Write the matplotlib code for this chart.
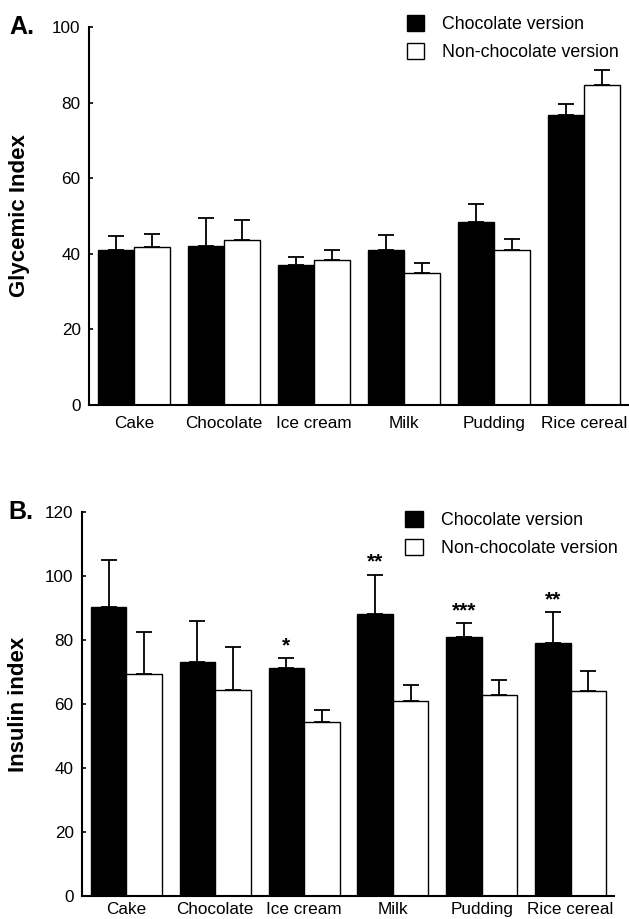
import matplotlib
matplotlib.use("Agg")
import matplotlib.pyplot as plt
from matplotlib.patches import Patch
import numpy as np

plt.rcParams['font.family'] = ['Liberation Sans', 'DejaVu Sans']

# data
foods = ["Cake", "Chocolate", "Ice cream", "Milk", "Pudding", "Rice cereal"]

gi_choc = [41.1, 42.1, 37.0, 40.9, 48.5, 76.8]
gi_choc_err = [3.7, 7.4, 2.2, 4.0, 4.7, 2.8]
gi_non = [41.8, 43.6, 38.3, 34.8, 40.9, 84.6]
gi_non_err = [3.4, 5.3, 2.8, 2.7, 3.1, 4.0]

ii_choc = [90.2, 73.0, 71.1, 88.2, 80.8, 79.0]
ii_choc_err = [14.9, 13.0, 3.2, 12.1, 4.4, 9.6]
ii_non = [69.4, 64.5, 54.5, 61.0, 62.9, 64.1]
ii_non_err = [13.1, 13.3, 3.7, 5.0, 4.7, 6.3]
ii_stars = ["", "", "*", "**", "***", "**"]

W = 0.4


def panel(ax, choc, choc_err, non, non_err, ymax, ylabel, letter, ylab_x, let_x, xpad):
    x = np.arange(len(foods))
    ekw = dict(elinewidth=1.3, capthick=1.3, ecolor='black')
    ax.bar(x - W/2, choc, W, color='black', edgecolor='black', linewidth=1,
           yerr=[np.zeros(len(x)), choc_err], capsize=5.5, error_kw=ekw, zorder=2)
    ax.bar(x + W/2, non, W, color='white', edgecolor='black', linewidth=1,
           yerr=[np.zeros(len(x)), non_err], capsize=5.5, error_kw=ekw, zorder=2)
    ax.set_xlim(-0.5, 5.49)
    ax.set_ylim(0, ymax)
    ax.set_yticks(np.arange(0, ymax + 1, 20))
    ax.set_xticks(x)
    ax.set_xticklabels(foods, fontsize=12.3)
    ax.tick_params(axis='x', length=0, pad=xpad)
    ax.tick_params(axis='y', direction='in', length=3, width=1.2, labelsize=12.3, pad=6)
    for s in ['top', 'right']:
        ax.spines[s].set_visible(False)
    for s in ['left', 'bottom']:
        ax.spines[s].set_linewidth(1.5)
    ax.set_ylabel(ylabel, fontsize=16, fontweight='bold')
    ax.yaxis.set_label_coords(ylab_x, 0.5)
    ax.text(let_x, 1.0, letter, transform=ax.transAxes, fontsize=18,
            fontweight='bold', ha='left', va='center')
    handles = [Patch(facecolor='black', edgecolor='black', label='Chocolate version'),
               Patch(facecolor='white', edgecolor='black', label='Non-chocolate version')]
    return handles


fig = plt.figure(figsize=(6.29, 9.19), dpi=100)
leg_kw = dict(loc='upper left', frameon=False, fontsize=12.8, handlelength=1.0,
              handleheight=1.0, handletextpad=1.0, labelspacing=0.55, borderaxespad=0)

axA = fig.add_axes([0.1415, 0.5593, 0.857, 0.4113])
h = panel(axA, gi_choc, gi_choc_err, gi_non, gi_non_err, 100, "Glycemic Index", "A.",
          -0.109, -0.147, 8)
axA.legend(handles=h, bbox_to_anchor=(0.576, 1.05), **leg_kw)

axB = fig.add_axes([0.1304, 0.025, 0.8458, 0.418])
h = panel(axB, ii_choc, ii_choc_err, ii_non, ii_non_err, 120, "Insulin index", "B.",
          -0.10, -0.139, 4)
axB.legend(handles=h, bbox_to_anchor=(0.594, 1.02), **leg_kw)
xb = np.arange(len(foods)) - W/2
for i, s in enumerate(ii_stars):
    if s:
        axB.text(xb[i], ii_choc[i] + ii_choc_err[i] + 1.0, s, ha='center', va='bottom',
                 fontsize=15, fontweight='bold')

fig.savefig("out.png", dpi=100)
